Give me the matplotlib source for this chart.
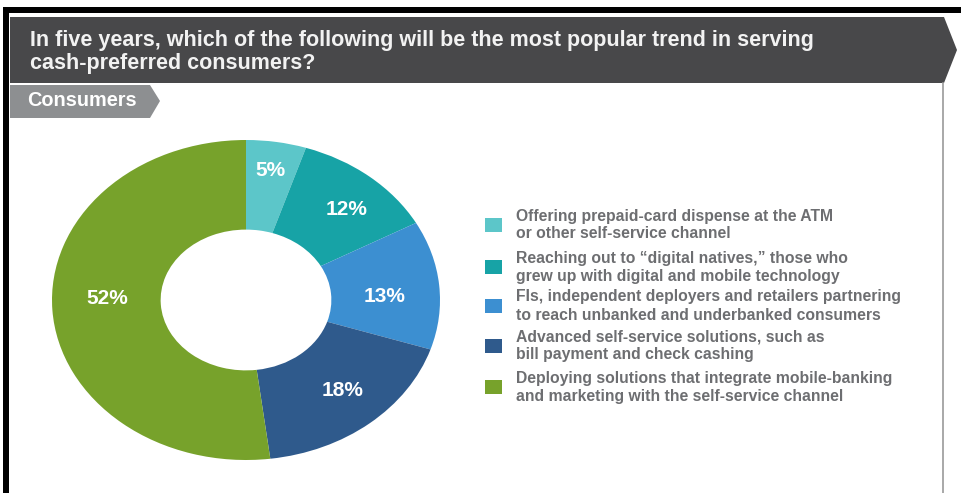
"""Donut chart: most popular trend in serving cash-preferred consumers."""

import matplotlib

matplotlib.use("Agg")
import matplotlib.pyplot as plt
from matplotlib.patches import Polygon, Rectangle
import numpy as np

TITLE = ("In five years, which of the following will be the most popular trend in serving\n"
         "cash-preferred consumers?")
SUBTITLE = "Consumers"

trends = [
    "Offering prepaid-card dispense at the ATM\nor other self-service channel",
    "Reaching out to \u201cdigital natives,\u201d those who\ngrew up with digital and mobile technology",
    "FIs, independent deployers and retailers partnering\nto reach unbanked and underbanked consumers",
    "Advanced self-service solutions, such as\nbill payment and check cashing",
    "Deploying solutions that integrate mobile-banking\nand marketing with the self-service channel",
]
shares = [5, 12, 13, 18, 52]
colors = ["#5cc6c9", "#17a3a6", "#3c8fd1", "#2f5a8c", "#77a22b"]

W, H = 961, 493
SANS = ["Liberation Sans", "DejaVu Sans"]

fig = plt.figure(figsize=(W / 100, H / 100), dpi=100)
fig.patch.set_facecolor("white")

# frame, header banner and sub-tab drawn in pixel space
bg = fig.add_axes([0, 0, 1, 1], zorder=0)
bg.set_xlim(0, W)
bg.set_ylim(H, 0)
bg.axis("off")

bg.add_patch(Rectangle((4, 7), W, 6, color="black", lw=0))
bg.add_patch(Rectangle((3, 7), 6, H, color="black", lw=0))
bg.plot([943, 943], [83, H], color="#9a9a9a", lw=1.2)
bg.add_patch(Polygon([(10, 17), (944, 17), (957, 50), (944, 83), (10, 83)],
                     closed=True, color="#48484a", lw=0))
bg.add_patch(Polygon([(10, 85), (150, 85), (160, 101), (150, 118), (10, 118)],
                     closed=True, color="#8d8f91", lw=0))

bg.text(30, 52, TITLE, color="#f2f2f2", fontsize=15.5, fontweight="bold",
        family=SANS, va="center", ha="left", linespacing=1.15)
bg.text(27, 101, SUBTITLE, color="white", fontsize=14.3, fontweight="bold",
        family=SANS, va="center", ha="left")

# donut, stretched to an ellipse by the axes box
ax = fig.add_axes([52 / W, 1 - 460 / H, 388 / W, 320 / H], zorder=1)
wedges, _ = ax.pie(shares, colors=colors, startangle=90, counterclock=False,
                   radius=1.0, wedgeprops=dict(width=0.56, linewidth=0))
ax.set_aspect("auto")
ax.set_xlim(-1, 1)
ax.set_ylim(-1, 1)

# label radius along the mid-angle, then a small pixel nudge
label_r = [0.82, 0.78, 0.72, 0.76, 0.72]
nudge = [(0, 0), (4, -6), (0, -7), (3, 3), (1, 9)]
for wedge, share, r, (dx, dy) in zip(wedges, shares, label_r, nudge):
    mid = np.deg2rad((wedge.theta1 + wedge.theta2) / 2)
    ax.annotate(f"{share}%", (r * np.cos(mid), r * np.sin(mid)),
                xytext=(dx, dy), textcoords="offset pixels", color="white",
                fontsize=15, fontweight="bold", family=SANS,
                ha="center", va="center")

# legend rows
row_y = [225, 267, 306, 346, 387]
for color, label, y in zip(colors, trends, row_y):
    bg.add_patch(Rectangle((485, y - 7), 17, 14, color=color, lw=0))
    bg.text(516, y, label, color="#6d6e71", fontsize=11.3, fontweight="bold",
            family=SANS, va="center", ha="left", linespacing=1.25)

fig.savefig("out.png", dpi=100)
